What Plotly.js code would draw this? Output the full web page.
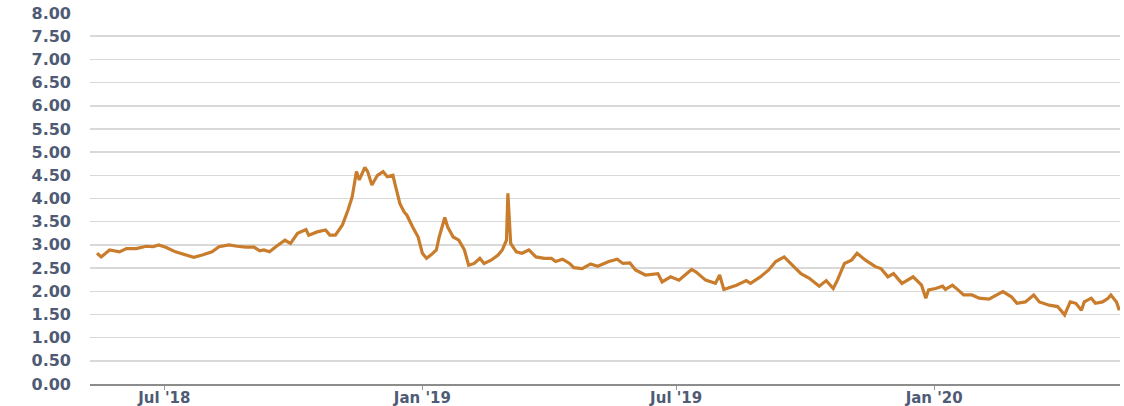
<!DOCTYPE html>
<html>
<head>
<meta charset="utf-8">
<script src="https://cdn.plot.ly/plotly-3.0.1.min.js"></script>
<style>html,body{margin:0;padding:0;background:#fff;}#chart{width:1124px;height:406px;}</style>
</head>
<body>
<div id="chart"></div>
<script>
const dates = [
"2018-05-14","2018-05-17","2018-05-23","2018-05-30","2018-06-04","2018-06-11","2018-06-18","2018-06-23","2018-06-27","2018-07-02",
"2018-07-09","2018-07-16","2018-07-22","2018-07-28","2018-08-04","2018-08-09","2018-08-16","2018-08-22","2018-08-28","2018-09-03",
"2018-09-07","2018-09-10","2018-09-14","2018-09-19","2018-09-25","2018-09-29","2018-10-04","2018-10-10","2018-10-12","2018-10-18",
"2018-10-24","2018-10-27","2018-10-31","2018-11-05","2018-11-09","2018-11-12","2018-11-15","2018-11-17","2018-11-21","2018-11-23",
"2018-11-26","2018-11-30","2018-12-04","2018-12-07","2018-12-11","2018-12-13","2018-12-16","2018-12-19","2018-12-21","2018-12-25",
"2018-12-29","2019-01-01","2019-01-04","2019-01-07","2019-01-11","2019-01-13","2019-01-17","2019-01-19","2019-01-23","2019-01-27",
"2019-01-31","2019-02-03","2019-02-07","2019-02-11","2019-02-14","2019-02-19","2019-02-24","2019-02-27","2019-03-02","2019-03-03",
"2019-03-05","2019-03-09","2019-03-13","2019-03-18","2019-03-23","2019-03-29","2019-04-03","2019-04-06","2019-04-11","2019-04-16",
"2019-04-19","2019-04-25","2019-05-01","2019-05-06","2019-05-11","2019-05-14","2019-05-20","2019-05-24","2019-05-29","2019-06-02",
"2019-06-09","2019-06-18","2019-06-21","2019-06-27","2019-07-03","2019-07-12","2019-07-15","2019-07-22","2019-07-29","2019-08-01",
"2019-08-04","2019-08-13","2019-08-20","2019-08-23","2019-08-30","2019-09-05","2019-09-10","2019-09-16","2019-09-22","2019-09-28",
"2019-10-04","2019-10-11","2019-10-16","2019-10-21","2019-10-24","2019-10-29","2019-11-03","2019-11-07","2019-11-13","2019-11-20",
"2019-11-24","2019-11-29","2019-12-03","2019-12-09","2019-12-17","2019-12-23","2019-12-26","2019-12-28","2020-01-02","2020-01-07",
"2020-01-09","2020-01-14","2020-01-18","2020-01-22","2020-01-28","2020-02-02","2020-02-09","2020-02-14","2020-02-19","2020-02-25",
"2020-02-29","2020-03-06","2020-03-12","2020-03-16","2020-03-23","2020-03-29","2020-04-03","2020-04-07","2020-04-11","2020-04-15",
"2020-04-17","2020-04-22","2020-04-25","2020-04-30","2020-05-04","2020-05-06","2020-05-10","2020-05-12"
];
const values = [
2.82,2.74,2.89,2.85,2.92,2.92,2.97,2.96,3.00,2.95,
2.85,2.78,2.73,2.78,2.85,2.96,3.00,2.97,2.95,2.95,
2.87,2.89,2.85,2.97,3.10,3.03,3.25,3.33,3.21,3.28,
3.32,3.21,3.21,3.43,3.75,4.04,4.58,4.40,4.67,4.58,
4.29,4.50,4.58,4.47,4.50,4.25,3.89,3.71,3.64,3.39,
3.17,2.82,2.71,2.78,2.89,3.17,3.59,3.39,3.17,3.10,
2.89,2.56,2.60,2.71,2.60,2.67,2.78,2.89,3.10,4.11,
3.03,2.85,2.82,2.89,2.74,2.71,2.71,2.64,2.69,2.60,
2.51,2.49,2.59,2.54,2.60,2.64,2.69,2.60,2.61,2.46,
2.35,2.38,2.20,2.31,2.24,2.47,2.42,2.24,2.17,2.35,
2.04,2.13,2.23,2.17,2.31,2.46,2.64,2.74,2.56,2.38,
2.28,2.11,2.23,2.06,2.24,2.60,2.67,2.82,2.67,2.53,
2.49,2.31,2.38,2.17,2.31,2.13,1.85,2.03,2.06,2.11,
2.04,2.13,2.03,1.92,1.92,1.85,1.83,1.92,1.99,1.88,
1.74,1.77,1.92,1.77,1.70,1.67,1.49,1.77,1.74,1.59,
1.77,1.85,1.74,1.77,1.85,1.92,1.77,1.59
];
const yTicks = [0,0.5,1,1.5,2,2.5,3,3.5,4,4.5,5,5.5,6,6.5,7,7.5,8];
const yTickLabels = yTicks.map(v => v.toFixed(2));

const yFont = {family: "DejaVu Sans, Arial, sans-serif", size: 16, color: "#4f5b75", weight: "bold"};
const xFont = {family: "DejaVu Sans, Arial, sans-serif", size: 15, color: "#4f5b75", weight: "bold"};

Plotly.newPlot("chart", [{
  x: dates,
  y: values,
  type: "scatter",
  mode: "lines",
  line: {color: "#c97d2c", width: 3.2},
  hoverinfo: "skip"
}], {
  width: 1124,
  height: 406,
  margin: {l: 90, r: 4, t: 13, b: 22},
  paper_bgcolor: "#ffffff",
  plot_bgcolor: "#ffffff",
  showlegend: false,
  xaxis: {
    type: "date",
    range: ["2018-05-09", "2020-05-12T12:00"],
    tick0: "2018-07-01",
    dtick: "M6",
    tickformat: "%b '%y",
    ticks: "outside",
    ticklen: 4,
    tickwidth: 1,
    tickcolor: "#999999",
    ticklabelstandoff: -5,
    showgrid: false,
    showline: true,
    linecolor: "#8c8c8c",
    linewidth: 2,
    zeroline: false,
    tickfont: xFont
  },
  yaxis: {
    range: [0, 8],
    tickvals: yTicks,
    ticktext: yTickLabels,
    showgrid: true,
    gridcolor: "#d9d9d9",
    gridwidth: 1.5,
    zeroline: false,
    showline: false,
    ticks: "",
    ticklabelstandoff: 18,
    tickfont: yFont
  }
}, {staticPlot: true, displayModeBar: false});
</script>
</body>
</html>
